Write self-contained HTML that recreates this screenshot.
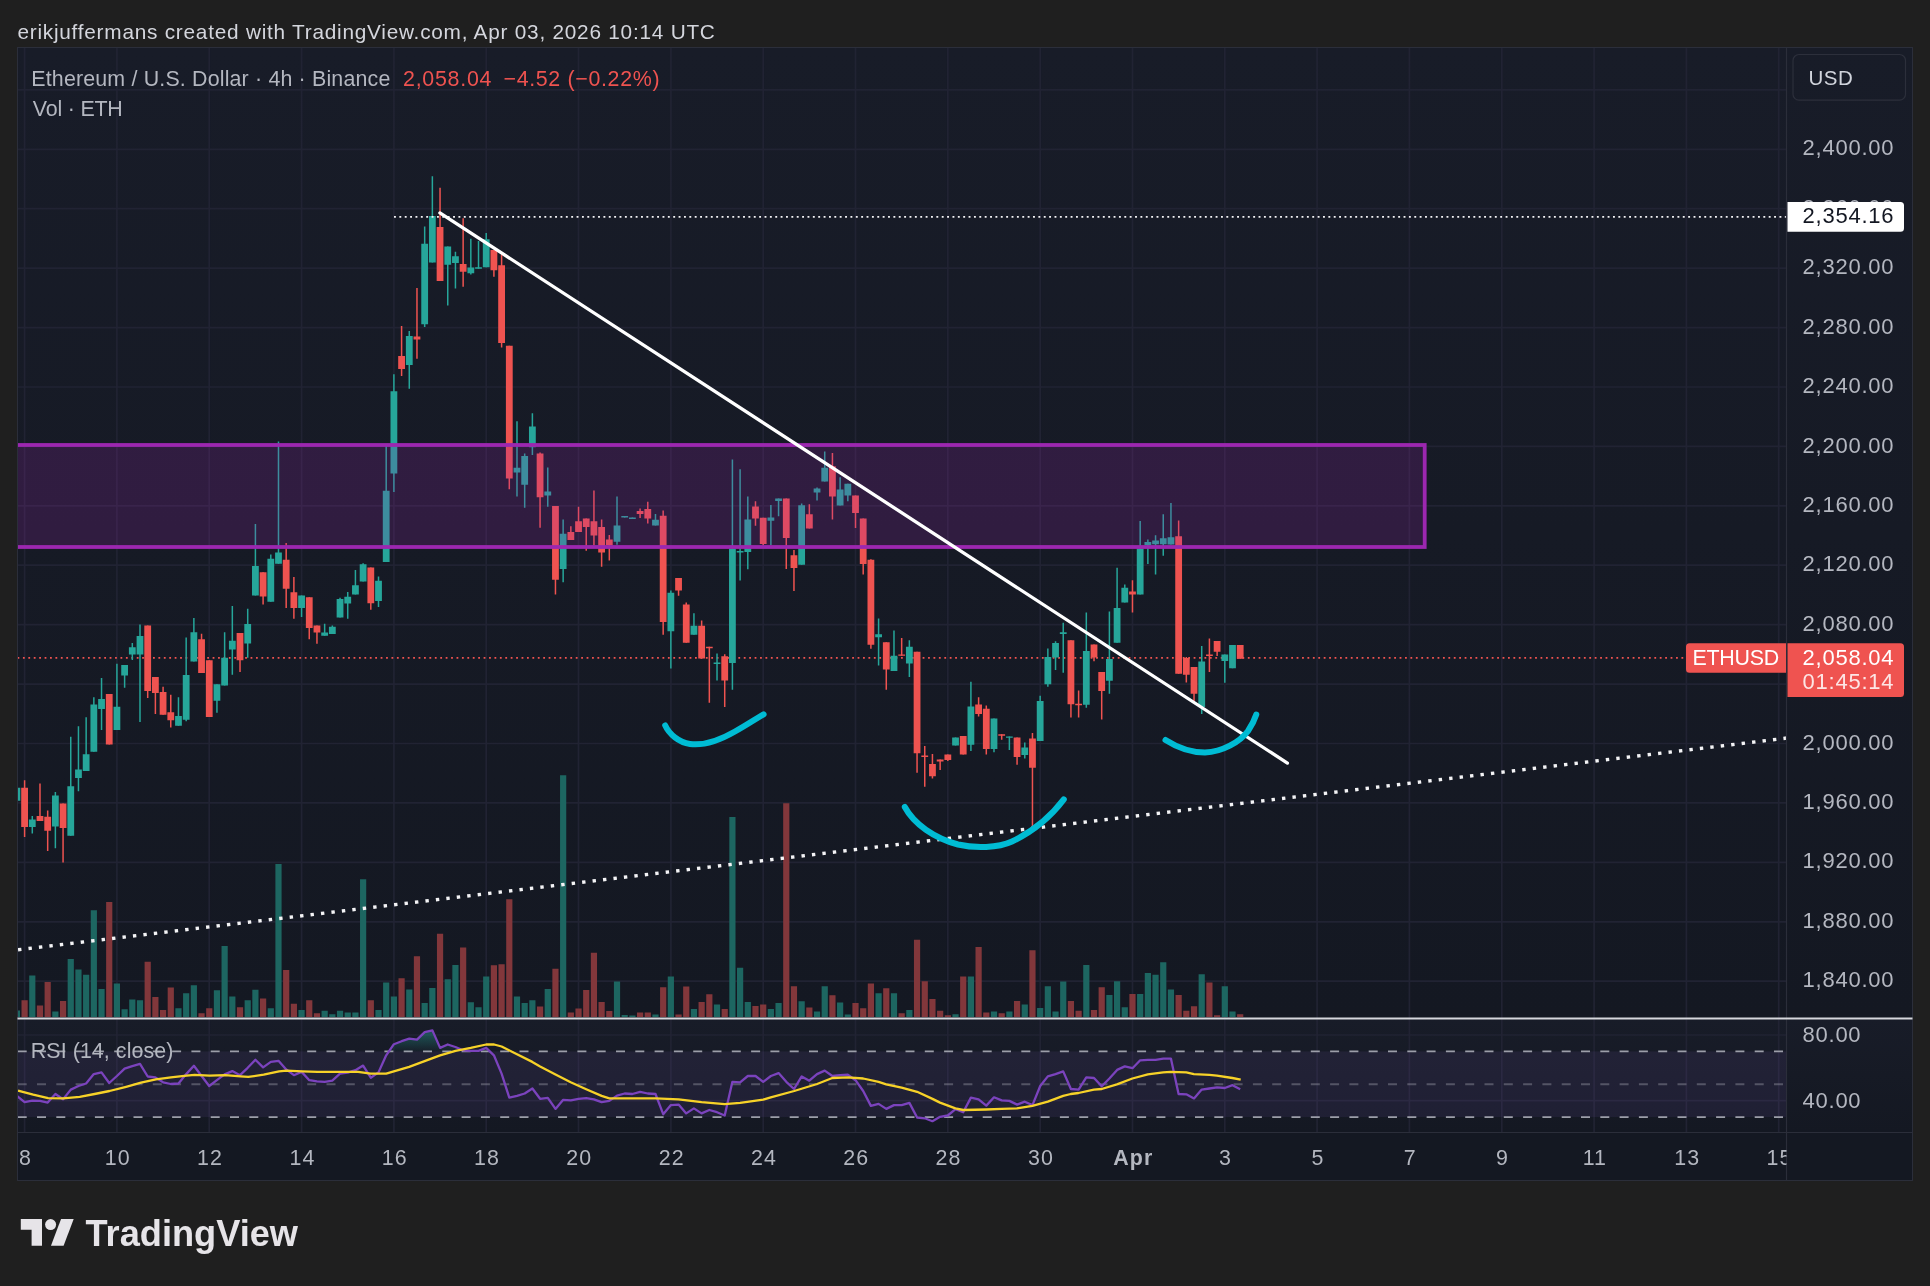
<!DOCTYPE html><html><head><meta charset="utf-8"><title>ETHUSD chart</title><style>html,body{margin:0;padding:0;background:#1f1f1f}</style></head><body><svg width="1930" height="1286" viewBox="0 0 1930 1286" style="display:block;will-change:transform">
<defs>
<linearGradient id="bg" x1="0" y1="0" x2="0" y2="1"><stop offset="0" stop-color="#181c28"/><stop offset="1" stop-color="#141822"/></linearGradient>
<linearGradient id="ob" x1="0" y1="0" x2="0" y2="1"><stop offset="0" stop-color="#26a69a" stop-opacity="0.45"/><stop offset="1" stop-color="#26a69a" stop-opacity="0.03"/></linearGradient>
<clipPath id="mainclip"><rect x="17.5" y="47.5" width="1769.0" height="971.0"/></clipPath>
<clipPath id="rsiclip"><rect x="17.5" y="1018.5" width="1769.0" height="114.0"/></clipPath>
</defs>
<rect width="1930" height="1286" fill="#1f1f1f"/>
<rect x="17.5" y="47.5" width="1895.0" height="1133.0" fill="#141822"/>
<rect x="17.5" y="47.5" width="1895.0" height="971.0" fill="url(#bg)"/>
<rect x="17.5" y="1018.5" width="1895.0" height="114.0" fill="url(#bg)"/>
<path d="M24.6 47.5V1132.5M116.9 47.5V1132.5M209.2 47.5V1132.5M301.6 47.5V1132.5M393.9 47.5V1132.5M486.2 47.5V1132.5M578.5 47.5V1132.5M670.9 47.5V1132.5M763.2 47.5V1132.5M855.5 47.5V1132.5M947.8 47.5V1132.5M1040.2 47.5V1132.5M1132.5 47.5V1132.5M1224.8 47.5V1132.5M1317.1 47.5V1132.5M1409.4 47.5V1132.5M1501.8 47.5V1132.5M1594.1 47.5V1132.5M1686.4 47.5V1132.5M1778.7 47.5V1132.5M17.5 981.2H1786.5M17.5 921.8H1786.5M17.5 862.3H1786.5M17.5 802.9H1786.5M17.5 743.5H1786.5M17.5 684.1H1786.5M17.5 624.7H1786.5M17.5 565.2H1786.5M17.5 505.8H1786.5M17.5 446.4H1786.5M17.5 387.0H1786.5M17.5 327.6H1786.5M17.5 268.1H1786.5M17.5 208.7H1786.5M17.5 149.3H1786.5M17.5 89.9H1786.5M17.5 1035.0H1786.5M17.5 1100.7H1786.5" stroke="#212333" stroke-width="1.7" fill="none"/>
<g clip-path="url(#mainclip)">
<path d="M13.81 1017.0v-6.5h6.2v6.5zM29.19 1017.0v-41.5h6.2v41.5zM52.27 1017.0v-5.5h6.2v5.5zM67.66 1017.0v-57.9h6.2v57.9zM75.36 1017.0v-47.6h6.2v47.6zM83.05 1017.0v-42.2h6.2v42.2zM90.74 1017.0v-106.8h6.2v106.8zM98.44 1017.0v-28.0h6.2v28.0zM113.82 1017.0v-33.4h6.2v33.4zM121.52 1017.0v-7.8h6.2v7.8zM129.21 1017.0v-17.6h6.2v17.6zM136.90 1017.0v-16.8h6.2v16.8zM175.37 1017.0v-8.8h6.2v8.8zM183.07 1017.0v-23.7h6.2v23.7zM190.76 1017.0v-31.7h6.2v31.7zM213.84 1017.0v-26.7h6.2v26.7zM221.53 1017.0v-71.1h6.2v71.1zM229.23 1017.0v-20.6h6.2v20.6zM244.61 1017.0v-16.8h6.2v16.8zM252.31 1017.0v-27.3h6.2v27.3zM267.70 1017.0v-8.8h6.2v8.8zM275.39 1017.0v-152.9h6.2v152.9zM298.47 1017.0v-6.9h6.2v6.9zM321.55 1017.0v-6.2h6.2v6.2zM329.24 1017.0v-2.7h6.2v2.7zM336.94 1017.0v-6.2h6.2v6.2zM344.63 1017.0v-4.4h6.2v4.4zM352.32 1017.0v-4.4h6.2v4.4zM360.02 1017.0v-137.8h6.2v137.8zM375.41 1017.0v-6.9h6.2v6.9zM383.10 1017.0v-34.4h6.2v34.4zM390.79 1017.0v-20.6h6.2v20.6zM406.18 1017.0v-27.6h6.2v27.6zM421.57 1017.0v-13.9h6.2v13.9zM429.26 1017.0v-29.0h6.2v29.0zM444.65 1017.0v-37.7h6.2v37.7zM452.34 1017.0v-51.9h6.2v51.9zM467.73 1017.0v-14.8h6.2v14.8zM475.42 1017.0v-9.8h6.2v9.8zM483.12 1017.0v-40.5h6.2v40.5zM513.89 1017.0v-20.5h6.2v20.5zM521.58 1017.0v-14.0h6.2v14.0zM529.28 1017.0v-16.7h6.2v16.7zM544.66 1017.0v-28.1h6.2v28.1zM560.05 1017.0v-241.8h6.2v241.8zM613.91 1017.0v-35.5h6.2v35.5zM621.60 1017.0v-2.0h6.2v2.0zM629.29 1017.0v-1.6h6.2v1.6zM652.38 1017.0v-2.6h6.2v2.6zM667.76 1017.0v-40.5h6.2v40.5zM690.84 1017.0v-8.0h6.2v8.0zM713.92 1017.0v-12.6h6.2v12.6zM729.31 1017.0v-200.0h6.2v200.0zM737.00 1017.0v-49.2h6.2v49.2zM744.70 1017.0v-15.0h6.2v15.0zM767.78 1017.0v-8.0h6.2v8.0zM775.47 1017.0v-14.0h6.2v14.0zM798.55 1017.0v-15.7h6.2v15.7zM813.94 1017.0v-5.6h6.2v5.6zM821.63 1017.0v-30.7h6.2v30.7zM837.02 1017.0v-14.6h6.2v14.6zM844.72 1017.0v-2.6h6.2v2.6zM875.49 1017.0v-23.7h6.2v23.7zM890.88 1017.0v-23.7h6.2v23.7zM906.26 1017.0v-6.9h6.2v6.9zM952.43 1017.0v-2.7h6.2v2.7zM967.81 1017.0v-40.5h6.2v40.5zM990.89 1017.0v-5.5h6.2v5.5zM1006.28 1017.0v-5.5h6.2v5.5zM1021.67 1017.0v-12.5h6.2v12.5zM1037.06 1017.0v-8.9h6.2v8.9zM1044.75 1017.0v-30.7h6.2v30.7zM1052.44 1017.0v-5.5h6.2v5.5zM1060.14 1017.0v-35.4h6.2v35.4zM1083.22 1017.0v-51.9h6.2v51.9zM1106.30 1017.0v-22.0h6.2v22.0zM1113.99 1017.0v-35.8h6.2v35.8zM1121.68 1017.0v-9.8h6.2v9.8zM1137.07 1017.0v-22.9h6.2v22.9zM1144.77 1017.0v-43.9h6.2v43.9zM1152.46 1017.0v-42.2h6.2v42.2zM1160.15 1017.0v-54.7h6.2v54.7zM1167.85 1017.0v-27.6h6.2v27.6zM1198.62 1017.0v-42.8h6.2v42.8zM1221.70 1017.0v-30.7h6.2v30.7zM1229.40 1017.0v-5.5h6.2v5.5z" fill="#1d6661"/>
<path d="M21.50 1017.0v-16.8h6.2v16.8zM36.89 1017.0v-11.5h6.2v11.5zM44.58 1017.0v-35.0h6.2v35.0zM59.97 1017.0v-15.9h6.2v15.9zM106.13 1017.0v-114.9h6.2v114.9zM144.60 1017.0v-55.2h6.2v55.2zM152.29 1017.0v-19.9h6.2v19.9zM159.98 1017.0v-6.9h6.2v6.9zM167.68 1017.0v-29.6h6.2v29.6zM198.45 1017.0v-3.8h6.2v3.8zM206.15 1017.0v-8.8h6.2v8.8zM236.92 1017.0v-9.8h6.2v9.8zM260.00 1017.0v-18.6h6.2v18.6zM283.08 1017.0v-46.9h6.2v46.9zM290.78 1017.0v-13.2h6.2v13.2zM306.16 1017.0v-16.8h6.2v16.8zM313.86 1017.0v-3.8h6.2v3.8zM367.71 1017.0v-16.8h6.2v16.8zM398.49 1017.0v-38.8h6.2v38.8zM413.87 1017.0v-60.8h6.2v60.8zM436.95 1017.0v-83.3h6.2v83.3zM460.04 1017.0v-69.4h6.2v69.4zM490.81 1017.0v-51.8h6.2v51.8zM498.50 1017.0v-52.8h6.2v52.8zM506.20 1017.0v-117.8h6.2v117.8zM536.97 1017.0v-10.6h6.2v10.6zM552.36 1017.0v-48.2h6.2v48.2zM567.75 1017.0v-4.6h6.2v4.6zM575.44 1017.0v-8.6h6.2v8.6zM583.13 1017.0v-27.1h6.2v27.1zM590.83 1017.0v-64.2h6.2v64.2zM598.52 1017.0v-15.0h6.2v15.0zM606.21 1017.0v-6.0h6.2v6.0zM636.99 1017.0v-4.4h6.2v4.4zM644.68 1017.0v-4.4h6.2v4.4zM660.07 1017.0v-29.7h6.2v29.7zM675.46 1017.0v-2.6h6.2v2.6zM683.15 1017.0v-30.5h6.2v30.5zM698.54 1017.0v-15.0h6.2v15.0zM706.23 1017.0v-22.7h6.2v22.7zM721.62 1017.0v-8.0h6.2v8.0zM752.39 1017.0v-11.0h6.2v11.0zM760.09 1017.0v-12.4h6.2v12.4zM783.17 1017.0v-213.7h6.2v213.7zM790.86 1017.0v-30.7h6.2v30.7zM806.25 1017.0v-9.6h6.2v9.6zM829.33 1017.0v-21.7h6.2v21.7zM852.41 1017.0v-14.0h6.2v14.0zM860.10 1017.0v-8.8h6.2v8.8zM867.80 1017.0v-33.4h6.2v33.4zM883.18 1017.0v-28.7h6.2v28.7zM898.57 1017.0v-3.8h6.2v3.8zM913.96 1017.0v-77.2h6.2v77.2zM921.65 1017.0v-35.8h6.2v35.8zM929.34 1017.0v-17.9h6.2v17.9zM937.04 1017.0v-6.2h6.2v6.2zM944.73 1017.0v-1.8h6.2v1.8zM960.12 1017.0v-40.5h6.2v40.5zM975.51 1017.0v-70.0h6.2v70.0zM983.20 1017.0v-4.4h6.2v4.4zM998.59 1017.0v-3.8h6.2v3.8zM1013.97 1017.0v-15.9h6.2v15.9zM1029.36 1017.0v-66.8h6.2v66.8zM1067.83 1017.0v-15.9h6.2v15.9zM1075.52 1017.0v-6.2h6.2v6.2zM1090.91 1017.0v-7.1h6.2v7.1zM1098.60 1017.0v-29.8h6.2v29.8zM1129.38 1017.0v-22.9h6.2v22.9zM1175.54 1017.0v-22.0h6.2v22.0zM1183.23 1017.0v-6.2h6.2v6.2zM1190.93 1017.0v-10.8h6.2v10.8zM1206.31 1017.0v-34.5h6.2v34.5zM1214.01 1017.0v-1.8h6.2v1.8zM1237.09 1017.0v-2.7h6.2v2.7z" fill="#82373b"/>
<path d="M17.5 657.9H1686" stroke="#ef5350" stroke-width="1.6" stroke-dasharray="1.8 3.62" fill="none"/>
<path d="M16.91 784.0V800.8M32.29 816.0V833.4M55.37 792.1V848.3M70.76 736.8V835.8M78.46 726.3V791.2M86.15 717.2V770.9M93.84 697.3V751.8M101.54 678.0V730.0M116.92 663.8V730.0M124.62 664.9V687.8M132.31 642.9V659.9M140.00 624.4V722.0M178.47 697.3V725.7M186.17 637.5V721.3M193.86 618.1V661.6M216.94 684.3V712.8M224.63 632.2V685.6M232.33 606.1V674.7M247.71 608.7V657.7M255.41 523.9V595.5M270.80 554.4V601.8M278.49 441.6V563.8M301.57 595.5V617.0M324.65 623.8V635.8M332.34 625.4V634.0M340.04 597.7V617.5M347.73 591.9V618.8M355.42 570.1V594.6M363.12 563.3V581.5M378.51 576.4V607.1M386.20 446.1V562.0M393.89 374.3V492.1M409.28 331.0V388.7M424.67 226.4V326.9M432.36 176.3V262.5M447.75 246.4V305.5M455.44 251.8V288.5M470.83 238.7V274.5M478.52 241.0V268.8M486.22 233.0V267.3M516.99 421.3V496.4M524.68 453.5V507.7M532.38 413.2V454.9M547.76 467.4V506.8M563.15 519.4V582.3M617.01 496.5V544.8M624.70 516.2V517.4M632.39 517.6V518.8M655.48 514.0V525.6M670.86 590.6V668.4M693.94 613.3V634.8M717.02 653.6V680.4M732.41 459.5V689.7M740.10 469.2V580.5M747.80 496.5V569.3M770.88 505.0V545.0M778.57 498.5V516.3M801.65 503.6V564.7M817.04 487.4V500.6M824.73 451.6V481.4M840.12 477.3V505.6M847.82 483.8V501.2M878.59 618.4V665.6M893.98 630.6V671.0M909.36 640.3V677.1M955.53 737.4V745.5M970.91 681.7V750.9M993.99 718.6V752.3M1009.38 736.4V749.9M1024.77 742.4V758.6M1040.16 695.8V741.0M1047.85 648.6V686.8M1055.54 641.2V670.0M1063.24 622.7V672.7M1086.32 612.5V707.8M1109.40 611.4V693.7M1117.09 567.7V642.7M1124.78 584.5V602.4M1140.17 521.1V594.4M1147.87 539.4V563.9M1155.56 535.2V574.6M1163.25 514.2V555.7M1170.95 503.0V544.6M1201.72 646.1V713.9M1224.80 654.6V682.8M1232.50 644.9V668.3" stroke="#26a69a" stroke-width="1.5" fill="none"/>
<path d="M13.51 787.7h6.8v13.1h-6.8zM28.89 819.5h6.8v7.4h-6.8zM51.97 795.6h6.8v30.9h-6.8zM67.36 786.2h6.8v49.6h-6.8zM75.06 769.4h6.8v8.7h-6.8zM82.75 754.2h6.8v16.7h-6.8zM90.44 704.5h6.8v47.3h-6.8zM98.14 699.1h6.8v9.8h-6.8zM113.52 706.7h6.8v23.3h-6.8zM121.22 664.9h6.8v10.7h-6.8zM128.91 647.3h6.8v7.1h-6.8zM136.60 635.9h6.8v18.5h-6.8zM175.07 715.9h6.8v9.8h-6.8zM182.77 675.1h6.8v44.7h-6.8zM190.46 632.2h6.8v29.4h-6.8zM213.54 684.3h6.8v16.5h-6.8zM221.23 657.7h6.8v27.9h-6.8zM228.93 640.7h6.8v8.7h-6.8zM244.31 624.0h6.8v19.6h-6.8zM252.01 566.0h6.8v29.5h-6.8zM267.40 558.8h6.8v43.0h-6.8zM275.09 552.6h6.8v11.2h-6.8zM298.17 595.5h6.8v12.5h-6.8zM321.25 632.5h6.8v3.3h-6.8zM328.94 626.8h6.8v7.2h-6.8zM336.64 599.1h6.8v18.4h-6.8zM344.33 596.8h6.8v6.8h-6.8zM352.02 585.3h6.8v9.3h-6.8zM359.72 564.2h6.8v17.3h-6.8zM375.11 580.8h6.8v20.1h-6.8zM382.80 490.8h6.8v71.2h-6.8zM390.49 391.3h6.8v82.2h-6.8zM405.88 335.9h6.8v29.0h-6.8zM421.27 243.7h6.8v80.5h-6.8zM428.96 216.0h6.8v46.5h-6.8zM444.35 246.4h6.8v18.4h-6.8zM452.04 256.2h6.8v6.8h-6.8zM467.43 267.5h6.8v5.7h-6.8zM475.12 267.3h6.8v1.5h-6.8zM482.82 239.3h6.8v28.0h-6.8zM513.59 467.8h6.8v4.8h-6.8zM521.28 456.1h6.8v28.7h-6.8zM528.98 426.6h6.8v20.6h-6.8zM544.36 491.6h6.8v3.9h-6.8zM559.75 533.7h6.8v35.2h-6.8zM613.61 525.6h6.8v16.1h-6.8zM621.30 516.1h6.8v1.4h-6.8zM628.99 517.5h6.8v1.4h-6.8zM652.08 519.7h6.8v5.9h-6.8zM667.46 592.7h6.8v38.5h-6.8zM690.54 625.8h6.8v9.0h-6.8zM713.62 662.5h6.8v1.4h-6.8zM729.01 548.5h6.8v114.5h-6.8zM736.70 551.0h6.8v1.4h-6.8zM744.40 519.4h6.8v32.7h-6.8zM767.48 517.4h6.8v3.4h-6.8zM775.17 498.5h6.8v2.5h-6.8zM798.25 505.2h6.8v59.5h-6.8zM813.64 488.4h6.8v4.1h-6.8zM821.33 467.8h6.8v13.6h-6.8zM836.72 489.4h6.8v16.2h-6.8zM844.42 483.8h6.8v11.7h-6.8zM875.19 634.2h6.8v3.0h-6.8zM890.58 655.8h6.8v15.2h-6.8zM905.96 646.7h6.8v16.8h-6.8zM952.13 737.4h6.8v8.1h-6.8zM967.51 706.4h6.8v38.4h-6.8zM990.59 718.6h6.8v30.3h-6.8zM1005.98 736.4h6.8v1.4h-6.8zM1021.37 747.5h6.8v7.5h-6.8zM1036.76 701.1h6.8v39.9h-6.8zM1044.45 657.0h6.8v27.3h-6.8zM1052.14 642.9h6.8v14.5h-6.8zM1059.84 632.2h6.8v1.7h-6.8zM1082.92 651.1h6.8v53.6h-6.8zM1106.00 659.1h6.8v21.6h-6.8zM1113.69 608.0h6.8v34.7h-6.8zM1121.38 587.7h6.8v14.7h-6.8zM1136.77 548.4h6.8v46.0h-6.8zM1144.47 542.1h6.8v2.9h-6.8zM1152.16 540.4h6.8v3.8h-6.8zM1159.85 538.3h6.8v5.9h-6.8zM1167.55 537.3h6.8v7.3h-6.8zM1198.32 661.4h6.8v45.7h-6.8zM1221.40 654.6h6.8v6.4h-6.8zM1229.10 644.9h6.8v23.4h-6.8z" fill="#26a69a"/>
<path d="M24.60 780.3V836.9M39.99 783.4V821.0M47.68 810.6V850.9M63.07 803.6V862.4M109.23 694.1V744.6M147.70 625.5V698.0M155.39 676.9V713.9M163.08 686.7V714.8M170.78 694.7V727.4M201.55 633.8V673.0M209.25 660.3V716.9M240.02 633.1V671.9M263.10 572.2V604.4M286.18 543.1V608.0M293.88 577.1V618.8M309.26 597.3V639.3M316.96 625.4V643.8M370.81 567.4V609.8M401.59 326.0V376.1M416.97 287.9V358.8M440.05 187.7V280.9M463.14 218.3V286.7M493.91 250.0V276.8M501.60 254.5V347.5M509.30 345.7V489.2M540.07 452.6V527.7M555.46 505.9V594.5M570.85 526.2V539.9M578.54 506.8V531.9M586.23 518.5V550.7M593.93 490.4V545.3M601.62 519.4V566.8M609.31 535.1V560.5M640.09 508.6V518.1M647.78 501.8V523.5M663.17 510.4V634.8M678.56 578.0V595.8M686.25 602.6V642.8M701.64 620.5V658.4M709.33 646.8V702.8M724.72 654.3V706.9M755.49 501.2V525.8M763.19 517.8V545.0M786.27 498.5V568.9M793.96 550.1V591.0M809.35 504.2V528.5M832.43 453.0V519.4M855.51 495.5V527.9M863.20 518.4V574.4M870.90 559.2V648.8M886.28 642.3V689.8M901.67 638.0V655.8M917.06 651.8V772.8M924.75 745.9V786.7M932.44 753.9V778.6M940.14 759.4V770.1M947.83 754.6V761.0M963.22 736.1V754.4M978.61 697.3V716.5M986.30 705.4V754.4M1001.69 734.3V739.8M1017.07 737.4V764.7M1032.46 733.1V827.2M1070.93 640.2V717.5M1078.62 690.6V717.5M1094.01 644.4V661.2M1101.70 672.1V719.4M1132.48 580.3V612.5M1178.64 520.5V673.8M1186.33 657.0V682.5M1194.03 667.0V701.0M1209.41 638.4V672.0M1217.11 641.1V656.1M1240.19 644.9V658.8" stroke="#ef5350" stroke-width="1.5" fill="none"/>
<path d="M21.20 787.7h6.8v39.2h-6.8zM36.59 816.0h6.8v5.0h-6.8zM44.28 816.7h6.8v14.1h-6.8zM59.67 803.6h6.8v24.4h-6.8zM105.83 694.1h6.8v50.5h-6.8zM144.30 625.5h6.8v65.5h-6.8zM151.99 676.9h6.8v16.1h-6.8zM159.68 691.9h6.8v22.9h-6.8zM167.38 712.2h6.8v8.0h-6.8zM198.15 639.2h6.8v33.8h-6.8zM205.85 660.3h6.8v56.6h-6.8zM236.62 633.1h6.8v27.2h-6.8zM259.70 572.2h6.8v24.2h-6.8zM282.78 559.7h6.8v29.0h-6.8zM290.48 592.3h6.8v15.7h-6.8zM305.86 597.3h6.8v30.8h-6.8zM313.56 625.4h6.8v7.1h-6.8zM367.41 567.4h6.8v35.8h-6.8zM398.19 356.1h6.8v12.9h-6.8zM413.57 336.4h6.8v3.1h-6.8zM436.65 227.1h6.8v53.8h-6.8zM459.74 263.9h6.8v7.9h-6.8zM490.51 250.0h6.8v20.2h-6.8zM498.20 265.2h6.8v77.8h-6.8zM505.90 345.7h6.8v132.8h-6.8zM536.67 453.5h6.8v43.8h-6.8zM552.06 505.9h6.8v73.9h-6.8zM567.45 531.9h6.8v8.0h-6.8zM575.14 521.2h6.8v10.7h-6.8zM582.83 518.5h6.8v8.4h-6.8zM590.53 521.2h6.8v14.3h-6.8zM598.22 527.1h6.8v25.4h-6.8zM605.91 539.6h6.8v5.7h-6.8zM636.69 511.0h6.8v3.0h-6.8zM644.38 509.0h6.8v9.5h-6.8zM659.77 515.8h6.8v106.1h-6.8zM675.16 578.0h6.8v12.4h-6.8zM682.85 604.4h6.8v38.4h-6.8zM698.24 625.8h6.8v32.6h-6.8zM705.93 646.8h6.8v1.4h-6.8zM721.32 656.3h6.8v24.3h-6.8zM752.09 506.6h6.8v11.8h-6.8zM759.79 517.8h6.8v26.3h-6.8zM782.87 498.5h6.8v39.5h-6.8zM790.56 555.2h6.8v12.7h-6.8zM805.95 514.3h6.8v14.2h-6.8zM829.03 466.2h6.8v30.3h-6.8zM852.11 495.5h6.8v17.6h-6.8zM859.80 518.4h6.8v45.5h-6.8zM867.50 559.8h6.8v84.9h-6.8zM882.88 642.3h6.8v27.3h-6.8zM898.27 654.4h6.8v1.4h-6.8zM913.66 651.8h6.8v101.5h-6.8zM921.35 755.6h6.8v1.4h-6.8zM929.04 764.1h6.8v12.1h-6.8zM936.74 759.4h6.8v2.0h-6.8zM944.43 754.6h6.8v5.4h-6.8zM959.82 736.1h6.8v18.3h-6.8zM975.21 704.4h6.8v9.5h-6.8zM982.90 708.8h6.8v40.1h-6.8zM998.29 734.3h6.8v1.4h-6.8zM1013.67 737.4h6.8v19.6h-6.8zM1029.06 738.4h6.8v29.3h-6.8zM1067.53 640.2h6.8v64.0h-6.8zM1075.22 703.8h6.8v1.4h-6.8zM1090.61 644.4h6.8v13.0h-6.8zM1098.30 672.1h6.8v18.9h-6.8zM1129.08 591.4h6.8v3.0h-6.8zM1175.24 536.2h6.8v137.6h-6.8zM1182.93 658.0h6.8v16.7h-6.8zM1190.63 667.0h6.8v26.8h-6.8zM1206.01 654.5h6.8v1.4h-6.8zM1213.71 641.1h6.8v10.6h-6.8zM1236.79 644.9h6.8v13.9h-6.8z" fill="#ef5350"/>
<rect x="-10" y="445" width="1434.7" height="102" fill="#9c27b0" fill-opacity="0.2" stroke="#9c27b0" stroke-width="3.8"/>
<path d="M394 216.9H1786.5" stroke="#f4f4f6" stroke-width="1.9" stroke-dasharray="1.9 3.47" fill="none"/>
<path d="M-20 954.33L1792.5 737.38" stroke="#f4f4f6" stroke-width="3.4" stroke-dasharray="3.4 7.1206" stroke-dashoffset="3.77" fill="none"/>
<path d="M439.9 212.9L1287.4 763.1" stroke="#ffffff" stroke-width="3.3" stroke-linecap="round" fill="none"/>
<path d="M665.2 725.4C669 734 679 742.5 690 744C705 746 722 739 735 731.5C745 726 754 720 763.6 714.3" stroke="#00bcd4" stroke-width="6" stroke-linecap="round" fill="none"/>
<path d="M904.8 807C914 824 934 838 958 844.5C975 848.5 998 848 1012 841.5C1034 831 1052 815 1063.8 799.4" stroke="#00bcd4" stroke-width="6" stroke-linecap="round" fill="none"/>
<path d="M1165.5 740C1178 748 1192 752.5 1205 752.5C1222 752 1240 742 1248 731C1252 725 1254.5 720 1256.3 714.5" stroke="#00bcd4" stroke-width="6" stroke-linecap="round" fill="none"/>
</g>
<g clip-path="url(#rsiclip)">
<rect x="17.5" y="1051.4" width="1769.0" height="65.7" fill="#7e57c2" fill-opacity="0.11"/>
<path d="M17.7 1051.4H1786.5" stroke="#9c9ea9" stroke-opacity="1" stroke-width="1.9" stroke-dasharray="9 10.3" fill="none"/>
<path d="M17.7 1084.3H1786.5" stroke="#9c9ea9" stroke-opacity="0.42" stroke-width="1.9" stroke-dasharray="9 10.3" fill="none"/>
<path d="M17.7 1117.1H1786.5" stroke="#9c9ea9" stroke-opacity="1" stroke-width="1.9" stroke-dasharray="9 10.3" fill="none"/>
<path d="M388.9 1051.4L393.9 1044.2L401.6 1041.2L409.3 1038.7L417.0 1039.6L424.7 1032.1L432.4 1030.4L440.1 1047.9L447.7 1044.5L455.4 1047.0L463.1 1050.3L470.8 1050.8L478.5 1050.8L486.2 1047.9L489.9 1051.4z" fill="url(#ob)"/>
<path d="M16.9 1095.9L24.6 1102.2L32.3 1100.6L40.0 1100.9L47.7 1102.6L55.4 1094.0L63.1 1099.3L70.8 1089.6L78.5 1086.0L86.1 1083.5L93.8 1074.1L101.5 1072.4L109.2 1083.0L116.9 1076.0L124.6 1068.6L132.3 1066.1L140.0 1063.9L147.7 1076.5L155.4 1077.4L163.1 1082.3L170.8 1084.0L178.5 1083.5L186.2 1074.1L193.9 1065.8L201.6 1076.0L209.2 1086.0L216.9 1080.2L224.6 1074.4L232.3 1071.1L240.0 1075.2L247.7 1067.8L255.4 1059.8L263.1 1067.4L270.8 1061.9L278.5 1060.8L286.2 1069.4L293.9 1075.2L301.6 1071.9L309.3 1080.2L317.0 1081.3L324.7 1081.8L332.3 1080.7L340.0 1073.6L347.7 1072.7L355.4 1070.2L363.1 1065.6L370.8 1077.7L378.5 1072.4L386.2 1055.3L393.9 1044.2L401.6 1041.2L409.3 1038.7L417.0 1039.6L424.7 1032.1L432.4 1030.4L440.1 1047.9L447.7 1044.5L455.4 1047.0L463.1 1050.3L470.8 1050.8L478.5 1050.8L486.2 1047.9L493.9 1055.3L501.6 1073.6L509.3 1097.6L517.0 1095.9L524.7 1093.5L532.4 1088.5L540.1 1098.8L547.8 1097.9L555.5 1108.9L563.2 1099.8L570.8 1100.4L578.5 1098.9L586.2 1098.1L593.9 1099.3L601.6 1102.2L609.3 1100.9L617.0 1095.6L624.7 1093.5L632.4 1094.0L640.1 1091.8L647.8 1093.5L655.5 1094.0L663.2 1114.2L670.9 1105.1L678.6 1104.6L686.2 1113.4L693.9 1108.4L701.6 1113.4L709.3 1110.0L717.0 1112.2L724.7 1115.5L732.4 1081.8L740.1 1082.3L747.8 1076.0L755.5 1076.0L763.2 1081.8L770.9 1076.0L778.6 1073.1L786.3 1081.8L794.0 1089.0L801.7 1076.4L809.3 1080.7L817.0 1074.1L824.7 1070.6L832.4 1076.0L840.1 1075.2L847.8 1074.7L855.5 1080.2L863.2 1091.0L870.9 1105.9L878.6 1103.9L886.3 1108.9L894.0 1105.1L901.7 1105.1L909.4 1102.9L917.1 1117.5L924.8 1118.3L932.4 1121.2L940.1 1116.8L947.8 1115.5L955.5 1109.2L963.2 1112.2L970.9 1097.6L978.6 1099.3L986.3 1105.6L994.0 1097.3L1001.7 1100.4L1009.4 1100.9L1017.1 1104.6L1024.8 1101.7L1032.5 1105.1L1040.2 1086.0L1047.8 1076.4L1055.5 1074.1L1063.2 1071.4L1070.9 1089.0L1078.6 1089.6L1086.3 1077.4L1094.0 1078.0L1101.7 1086.3L1109.4 1078.5L1117.1 1069.9L1124.8 1066.4L1132.5 1068.2L1140.2 1060.3L1147.9 1059.8L1155.6 1059.8L1163.3 1058.6L1170.9 1058.6L1178.6 1094.0L1186.3 1094.3L1194.0 1098.4L1201.7 1089.6L1209.4 1088.5L1217.1 1087.3L1224.8 1088.0L1232.5 1085.2L1240.2 1089.3" stroke="#7b43bd" stroke-width="2.3" stroke-linejoin="round" fill="none"/>
<path d="M18.0 1090.6L33.2 1094.6L48.1 1098.1L63.1 1098.4L79.7 1096.8L94.6 1094.0L109.5 1091.0L126.1 1086.8L141.0 1082.7L155.9 1079.4L170.9 1077.4L186.6 1075.7L194.6 1074.9L209.5 1075.7L225.1 1075.2L240.5 1076.4L248.3 1076.9L263.7 1074.7L279.0 1071.4L286.6 1070.7L302.2 1071.4L317.6 1071.9L320.0 1071.9L339.9 1071.9L358.1 1071.9L370.7 1073.6L386.2 1073.6L393.8 1071.4L409.2 1066.9L424.6 1061.1L440.1 1055.3L455.5 1050.8L470.7 1047.9L486.2 1044.5L494.1 1044.5L501.6 1046.5L517.0 1054.2L532.3 1061.9L540.1 1066.4L555.5 1074.4L570.7 1082.3L586.2 1089.3L601.6 1095.9L609.4 1098.4L624.6 1098.4L630.0 1098.4L655.4 1098.4L678.6 1099.3L701.6 1102.2L724.7 1104.2L740.1 1102.9L763.2 1099.6L770.8 1097.3L794.2 1091.0L817.1 1084.0L832.3 1078.0L847.7 1077.4L863.2 1078.5L878.6 1081.8L886.2 1084.3L901.6 1087.7L917.1 1091.8L932.5 1098.9L940.0 1102.6L955.4 1108.4L963.2 1110.0L986.3 1109.5L1001.7 1108.9L1016.9 1108.4L1032.4 1105.9L1047.8 1101.7L1063.2 1095.9L1070.8 1094.0L1078.5 1093.0L1093.9 1089.6L1101.7 1089.0L1116.9 1084.3L1132.4 1078.5L1147.8 1074.4L1163.2 1072.4L1170.8 1071.9L1186.3 1072.4L1193.9 1074.1L1209.3 1074.9L1216.9 1075.7L1232.4 1078.0L1240.7 1079.7" stroke="#f7d228" stroke-width="2.3" stroke-linejoin="round" fill="none"/>
</g>
<path d="M1786.5 47.5V1180.5M17.5 1132.5H1912.5" stroke="#2b2e3a" stroke-width="1.2" fill="none"/>
<rect x="17.5" y="47.5" width="1895.0" height="1133.0" fill="none" stroke="#2b2e3a" stroke-width="1"/>
<path d="M17.5 1018.5H1912.5" stroke="#d6d7dc" stroke-width="2.2" fill="none"/>
<g font-family="Liberation Sans, Arial, sans-serif" font-size="22" fill="#b4b7c0">
<text x="1802.6" y="987.3" textLength="91" lengthAdjust="spacing">1,840.00</text>
<text x="1802.6" y="927.9" textLength="91" lengthAdjust="spacing">1,880.00</text>
<text x="1802.6" y="868.4" textLength="91" lengthAdjust="spacing">1,920.00</text>
<text x="1802.6" y="809.0" textLength="91" lengthAdjust="spacing">1,960.00</text>
<text x="1802.6" y="749.6" textLength="91" lengthAdjust="spacing">2,000.00</text>
<text x="1802.6" y="690.2" textLength="91" lengthAdjust="spacing">2,040.00</text>
<text x="1802.6" y="630.8" textLength="91" lengthAdjust="spacing">2,080.00</text>
<text x="1802.6" y="571.3" textLength="91" lengthAdjust="spacing">2,120.00</text>
<text x="1802.6" y="511.9" textLength="91" lengthAdjust="spacing">2,160.00</text>
<text x="1802.6" y="452.5" textLength="91" lengthAdjust="spacing">2,200.00</text>
<text x="1802.6" y="393.1" textLength="91" lengthAdjust="spacing">2,240.00</text>
<text x="1802.6" y="333.7" textLength="91" lengthAdjust="spacing">2,280.00</text>
<text x="1802.6" y="274.2" textLength="91" lengthAdjust="spacing">2,320.00</text>
<text x="1802.6" y="214.8" textLength="91" lengthAdjust="spacing">2,360.00</text>
<text x="1802.6" y="155.4" textLength="91" lengthAdjust="spacing">2,400.00</text>
<text x="1802.6" y="1042.4" textLength="58" lengthAdjust="spacing">80.00</text>
<text x="1802.6" y="1108.1" textLength="58" lengthAdjust="spacing">40.00</text>
</g>
<rect x="1793" y="54.5" width="112.5" height="45.7" rx="6" fill="none" stroke="#2c2f3b" stroke-width="1.2"/>
<text x="1808.4" y="84.8" font-family="Liberation Sans, Arial, sans-serif" font-size="20.5" fill="#d1d4dc" textLength="44.5" lengthAdjust="spacing">USD</text>
<path d="M1787.5 202H1900.5a3.5 3.5 0 0 1 3.5 3.5V228.3a3.5 3.5 0 0 1 -3.5 3.5H1787.5z" fill="#ffffff"/>
<text x="1802.6" y="222.6" font-family="Liberation Sans, Arial, sans-serif" font-size="22" fill="#131722" textLength="91" lengthAdjust="spacing">2,354.16</text>
<path d="M1689.5 643.3H1786V672.7H1689.5a3.5 3.5 0 0 1 -3.5 -3.5V646.8a3.5 3.5 0 0 1 3.5 -3.5z" fill="#ef5350"/>
<text x="1692.6" y="665.3" font-family="Liberation Sans, Arial, sans-serif" font-size="21.4" fill="#ffffff" textLength="86.5" lengthAdjust="spacing">ETHUSD</text>
<path d="M1787.5 643.3H1900.5a3.5 3.5 0 0 1 3.5 3.5V693.5a3.5 3.5 0 0 1 -3.5 3.5H1787.5z" fill="#ef5350"/>
<text x="1802.6" y="664.6" font-family="Liberation Sans, Arial, sans-serif" font-size="22" fill="#ffffff" textLength="91" lengthAdjust="spacing">2,058.04</text>
<text x="1802.6" y="689.4" font-family="Liberation Sans, Arial, sans-serif" font-size="22" fill="#ffffff" fill-opacity="0.85" textLength="91" lengthAdjust="spacing">01:45:14</text>
<text x="31.3" y="85.8" font-family="Liberation Sans, Arial, sans-serif" font-size="21.4" fill="#b4b7c0" textLength="359" lengthAdjust="spacing">Ethereum / U.S. Dollar · 4h · Binance</text>
<text x="403" y="85.8" font-family="Liberation Sans, Arial, sans-serif" font-size="21.4" fill="#ef5350" textLength="88.5" lengthAdjust="spacing">2,058.04</text>
<text x="503.5" y="85.8" font-family="Liberation Sans, Arial, sans-serif" font-size="21.4" fill="#ef5350" textLength="156" lengthAdjust="spacing">−4.52 (−0.22%)</text>
<text x="32.8" y="115.6" font-family="Liberation Sans, Arial, sans-serif" font-size="21.4" fill="#b4b7c0" textLength="90" lengthAdjust="spacing">Vol · ETH</text>
<text x="30.8" y="1057.8" font-family="Liberation Sans, Arial, sans-serif" font-size="21.4" fill="#b4b7c0" textLength="142.5" lengthAdjust="spacing">RSI (14, close)</text>
<g font-family="Liberation Sans, Arial, sans-serif" font-size="21.4" fill="#b4b7c0" text-anchor="middle" letter-spacing="1.1">
<clipPath id="tclip"><rect x="17.5" y="1132.5" width="1769.0" height="48.0"/></clipPath><g clip-path="url(#tclip)">
<text x="25.4" y="1164.9">8</text>
<text x="117.7" y="1164.9">10</text>
<text x="210.0" y="1164.9">12</text>
<text x="302.4" y="1164.9">14</text>
<text x="394.7" y="1164.9">16</text>
<text x="487.0" y="1164.9">18</text>
<text x="579.3" y="1164.9">20</text>
<text x="671.7" y="1164.9">22</text>
<text x="764.0" y="1164.9">24</text>
<text x="856.3" y="1164.9">26</text>
<text x="948.6" y="1164.9">28</text>
<text x="1041.0" y="1164.9">30</text>
<text x="1133.3" y="1164.9" font-weight="bold">Apr</text>
<text x="1225.6" y="1164.9">3</text>
<text x="1317.9" y="1164.9">5</text>
<text x="1410.2" y="1164.9">7</text>
<text x="1502.6" y="1164.9">9</text>
<text x="1594.9" y="1164.9">11</text>
<text x="1687.2" y="1164.9">13</text>
<text x="1779.5" y="1164.9">15</text>
</g></g>
<text x="17.4" y="38.6" font-family="Liberation Sans, Arial, sans-serif" font-size="20.8" fill="#d4d6dd" textLength="697.5" lengthAdjust="spacing">erikjuffermans created with TradingView.com, Apr 03, 2026 10:14 UTC</text>
<path d="M20.8 1219.1H42V1245.8H31.6V1229.8H20.8z" fill="#e6e4e8"/>
<circle cx="50.6" cy="1224.6" r="5.5" fill="#e6e4e8"/>
<path d="M61.05 1219.1H73.7L63.6 1245.8H50.95z" fill="#e6e4e8"/>
<text x="85.5" y="1245.7" font-family="Liberation Sans, Arial, sans-serif" font-size="36.6" font-weight="bold" fill="#e6e4e8" textLength="212.5" lengthAdjust="spacingAndGlyphs">TradingView</text>
</svg></body></html>
